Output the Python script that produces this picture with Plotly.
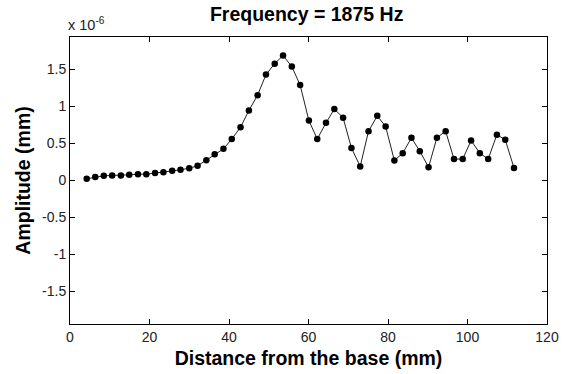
import plotly.graph_objects as go

distance_mm = [4.2, 6.35, 8.5, 10.6, 12.8, 14.9, 17.1, 19.2, 21.4, 23.5,
               25.7, 27.8, 30.0, 32.1, 34.3, 36.4, 38.6, 40.7, 42.9, 45.0,
               47.2, 49.3, 51.5, 53.6, 55.8, 57.9, 60.1, 62.2, 64.4, 66.5,
               68.7, 70.8, 73.0, 75.1, 77.3, 79.4, 81.6, 83.7, 85.9, 88.0,
               90.2, 92.3, 94.5, 96.6, 98.8, 100.9, 103.1, 105.2, 107.4, 109.5,
               111.7]
amplitude_e6 = [0.023, 0.046, 0.064, 0.068, 0.068, 0.077, 0.086, 0.086, 0.10, 0.113,
                0.131, 0.145, 0.167, 0.199, 0.275, 0.355, 0.428, 0.56, 0.72, 0.946,
                1.154, 1.432, 1.58, 1.69, 1.54, 1.29, 0.81, 0.56, 0.78, 0.965,
                0.85, 0.44, 0.19, 0.667, 0.874, 0.73, 0.27, 0.37, 0.577, 0.397,
                0.18, 0.577, 0.667, 0.29, 0.29, 0.54, 0.37, 0.29, 0.62, 0.55,
                0.17]
x_ticks = [0, 20, 40, 60, 80, 100, 120]
y_ticks = [-1.5, -1, -0.5, 0, 0.5, 1, 1.5]
y_tick_labels = ["-1.5", "-1", "-0.5", "0", "0.5", "1", "1.5"]

fig = go.Figure()
fig.add_trace(go.Scatter(
    x=distance_mm, y=amplitude_e6, mode="lines+markers",
    line=dict(color="#222222", width=1),
    marker=dict(color="black", size=6.5),
    showlegend=False,
))

font_family = "Liberation Sans, Arial, sans-serif"
axis_common = dict(
    showline=True, linecolor="black", linewidth=1, mirror="ticks",
    ticks="inside", ticklen=5, tickcolor="black", tickwidth=1,
    showgrid=False, zeroline=False, automargin=False,
    tickfont=dict(family=font_family, size=14, color="#222222"),
)
fig.update_xaxes(range=[0, 120], tickvals=x_ticks, **axis_common,
                 title=dict(text="<b>Distance from the base (mm)</b>", standoff=7,
                            font=dict(family=font_family, size=19.5, color="black")))
fig.update_yaxes(range=[-1.94, 1.94], tickvals=y_ticks, ticktext=y_tick_labels,
                 **axis_common,
                 title=dict(text="<b>Amplitude (mm)</b>", standoff=6,
                            font=dict(family=font_family, size=19.5, color="black")))

fig.update_layout(
    width=570, height=374,
    margin=dict(l=70, r=23, t=37, b=50),
    paper_bgcolor="white", plot_bgcolor="white",
    title=dict(text="<b>Frequency = 1875 Hz</b>", x=0.538, xanchor="center",
               y=0.962, yanchor="middle",
               font=dict(family=font_family, size=19.5, color="black")),
    annotations=[dict(text="x 10<sup>-6</sup>", xref="paper", yref="paper",
                      x=0, y=1, xanchor="left", yanchor="bottom", xshift=-4, yshift=2,
                      showarrow=False,
                      font=dict(family=font_family, size=14.5, color="#222222"))],
)

fig.write_html("out.html")
